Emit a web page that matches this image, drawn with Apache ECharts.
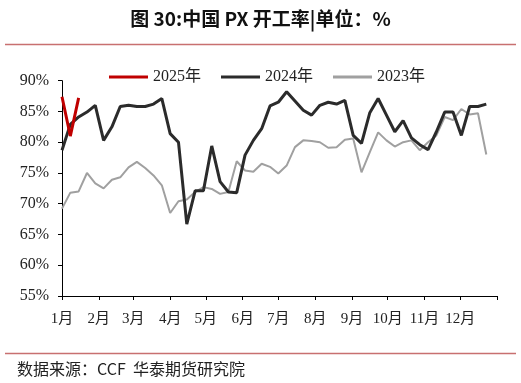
<!DOCTYPE html>
<html>
<head>
<meta charset="utf-8">
<script src="https://cdn.jsdelivr.net/npm/echarts@6/dist/echarts.min.js"></script>
<style>
html,body{margin:0;padding:0;background:#fff;}
#chart{width:521px;height:383px;}
</style>
</head>
<body>
<div id="chart"></div>
<script>
// ---- data ----
const titleText = '图 30:中国 PX 开工率|单位：%';
const sourceText = '数据来源：CCF  华泰期货研究院';
const seriesNames = ['2025年', '2024年', '2023年'];
// day-of-year of each weekly observation
const weekDays = [0,7,14,21,28,35,42,49,56,63,70,77,84,91,98,105,112,119,126,133,140,147,154,161,168,175,182,189,196,203,210,217,224,231,238,245,252,259,266,273,280,287,294,301,308,315,322,329,336,343,350,357];
const values2025 = [87.4, 81.0, 87.2];
const values2024 = [78.7,82.9,84.1,84.9,86.0,80.3,82.5,85.8,86.0,85.8,
  85.8,86.2,87.1,81.4,80.0,66.7,72.1,72.1,79.4,73.6,
  71.9,71.8,77.9,80.3,82.2,85.9,86.5,88.2,86.7,85.2,
  84.4,86.0,86.5,86.2,86.8,81.1,79.8,84.8,87.1,84.4,
  81.7,83.5,80.7,79.6,78.8,81.7,84.9,84.9,81.1,85.8,
  85.8,86.2];
const values2023 = [69.2,71.8,72.0,75.0,73.3,72.5,73.9,74.3,75.9,76.8,
  75.8,74.6,73.0,68.5,70.4,70.7,71.9,72.7,72.4,71.6,
  71.9,76.9,75.4,75.2,76.5,76.0,74.9,76.2,79.2,80.3,
  80.2,80.0,79.1,79.2,80.4,80.6,75.1,78.4,81.6,80.3,
  79.3,80.0,80.3,78.7,80.0,81.1,84.1,83.6,85.4,84.5,
  84.7,78.0];
// month boundaries (day of year) and labels
const monthTickDays = [0,31,60,91,121,152,182,213,244,274,305,335,366];
const monthLabelDays = [0,31,60,91,121,152,182,213,244,274,305,335];
const monthLabels = ['1月','2月','3月','4月','5月','6月','7月','8月','9月','10月','11月','12月'];

const pair = (vals) => vals.map((v, i) => [weekDays[i], v]);
const serif = "'Times New Roman','Liberation Serif','Noto Sans CJK SC',serif";

const chart = echarts.init(document.getElementById('chart'));
chart.setOption({
  animation: false,
  backgroundColor: '#fff',
  title: {
    text: titleText,
    left: 'center',
    top: 4,
    textStyle: {fontFamily: "'Noto Sans CJK SC'", fontWeight: 'bold', fontSize: 19, color: '#111'}
  },
  legend: {
    data: [
      {name: '2025年', itemStyle: {color: '#c00000'}},
      {name: '2024年', itemStyle: {color: '#2b2b2b'}},
      {name: '2023年', itemStyle: {color: '#a0a0a0'}}
    ],
    icon: 'rect',
    left: 104,
    top: 64,
    itemWidth: 39,
    itemHeight: 3,
    itemGap: 20,
    textStyle: {fontFamily: serif, fontSize: 16, color: '#222'}
  },
  grid: {left: 62, right: 24, top: 80.7, bottom: 87, containLabel: false},
  xAxis: {
    type: 'value',
    min: 0,
    max: 366,
    axisLine: {show: true, lineStyle: {color: '#000', width: 1}},
    axisTick: {show: true, length: 4, customValues: monthTickDays, lineStyle: {color: '#000'}},
    axisLabel: {
      customValues: monthLabelDays,
      margin: 16,
      fontFamily: serif, fontSize: 15, color: '#222',
      formatter: (v) => monthLabels[monthLabelDays.indexOf(Math.round(v))] || ''
    },
    splitLine: {show: false}
  },
  yAxis: {
    type: 'value',
    min: 55,
    max: 90,
    interval: 5,
    axisLine: {show: true, lineStyle: {color: '#000', width: 1}},
    axisTick: {show: true, length: 4, lineStyle: {color: '#000'}},
    axisLabel: {formatter: '{value}%', margin: 13, fontFamily: serif, fontSize: 16, color: '#222'},
    splitLine: {show: false}
  },
  series: [
    {name: '2023年', type: 'line', data: pair(values2023), symbol: 'none', z: 2,
     lineStyle: {color: '#a0a0a0', width: 2}, itemStyle: {color: '#a0a0a0'}},
    {name: '2024年', type: 'line', data: pair(values2024), symbol: 'none', z: 3,
     lineStyle: {color: '#2b2b2b', width: 3}, itemStyle: {color: '#2b2b2b'}},
    {name: '2025年', type: 'line', data: pair(values2025), symbol: 'none', z: 4,
     lineStyle: {color: '#c00000', width: 3}, itemStyle: {color: '#c00000'}}
  ],
  graphic: [
    {type: 'line', shape: {x1: 5, y1: 44.5, x2: 516, y2: 44.5}, style: {stroke: '#c87070', lineWidth: 1.5}},
    {type: 'line', shape: {x1: 5, y1: 353.5, x2: 516, y2: 353.5}, style: {stroke: '#c87070', lineWidth: 1.5}},
    {type: 'text', left: 17, top: 361, style: {text: sourceText, font: "16px 'Noto Sans CJK SC'", fill: '#222'}}
  ]
});
</script>
</body>
</html>
